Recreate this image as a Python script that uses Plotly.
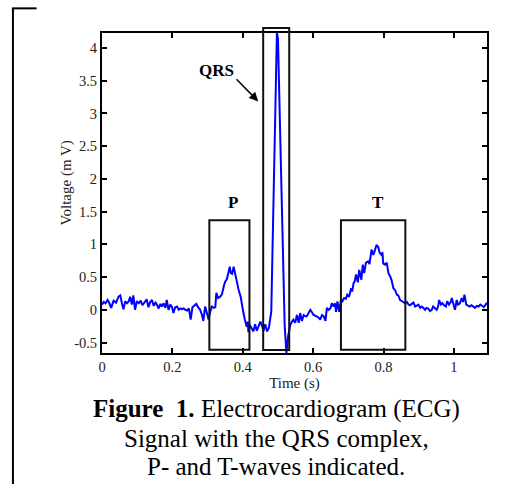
import plotly.graph_objects as go

# ---- data ----
time_s = [0.000, 0.005, 0.010, 0.016, 0.021, 0.026, 0.033, 0.040, 0.047, 0.052,
          0.057, 0.061, 0.066, 0.071, 0.076, 0.080, 0.085, 0.089, 0.094, 0.099,
          0.105, 0.110, 0.115, 0.120, 0.127, 0.132, 0.137, 0.142, 0.147, 0.152,
          0.156, 0.161, 0.166, 0.170, 0.175, 0.180, 0.184, 0.189, 0.194, 0.199,
          0.203, 0.208, 0.213, 0.218, 0.223, 0.228, 0.232, 0.237, 0.242, 0.247,
          0.252, 0.257, 0.262, 0.268, 0.273, 0.279, 0.284, 0.288, 0.293, 0.298,
          0.303, 0.307, 0.312, 0.318, 0.322, 0.325, 0.330, 0.336, 0.341, 0.347,
          0.350, 0.355, 0.360, 0.363, 0.366, 0.370, 0.374, 0.378, 0.383, 0.388,
          0.394, 0.398, 0.402, 0.406, 0.411, 0.414, 0.416, 0.420, 0.425, 0.430,
          0.435, 0.440, 0.445, 0.450, 0.455, 0.459, 0.464, 0.469, 0.474, 0.478,
          0.481, 0.497, 0.500, 0.519, 0.524, 0.529, 0.535, 0.540, 0.544, 0.549,
          0.554, 0.559, 0.563, 0.568, 0.573, 0.578, 0.582, 0.587, 0.592, 0.597,
          0.601, 0.606, 0.611, 0.616, 0.620, 0.625, 0.630, 0.635, 0.639, 0.644,
          0.649, 0.653, 0.658, 0.662, 0.665, 0.669, 0.674, 0.679, 0.683, 0.688,
          0.693, 0.697, 0.702, 0.708, 0.711, 0.715, 0.718, 0.722, 0.727, 0.731,
          0.737, 0.741, 0.745, 0.750, 0.756, 0.760, 0.766, 0.771, 0.775, 0.780,
          0.785, 0.789, 0.794, 0.797, 0.799, 0.804, 0.809, 0.814, 0.819, 0.823,
          0.828, 0.833, 0.838, 0.842, 0.847, 0.852, 0.856, 0.861, 0.866, 0.871,
          0.875, 0.880, 0.885, 0.890, 0.894, 0.899, 0.904, 0.908, 0.913, 0.918,
          0.922, 0.927, 0.932, 0.937, 0.941, 0.946, 0.951, 0.955, 0.958, 0.963,
          0.967, 0.972, 0.977, 0.981, 0.986, 0.991, 0.994, 0.998, 1.003, 1.008,
          1.012, 1.017, 1.022, 1.026, 1.030, 1.035, 1.040, 1.045, 1.050, 1.055,
          1.060, 1.065, 1.070, 1.075, 1.080, 1.085, 1.093, 1.100]

voltage_mv = [0.08, 0.12, 0.10, 0.15, 0.10, 0.03, 0.14, 0.11, 0.20, 0.22,
              0.09, 0.01, 0.13, 0.10, 0.13, 0.20, 0.08, 0.22, 0.00, 0.13,
              0.10, 0.14, 0.07, 0.11, 0.16, 0.04, 0.12, 0.15, 0.06, 0.11,
              0.08, 0.02, 0.09, 0.05, 0.10, 0.03, 0.15, 0.00, 0.08, 0.04,
              -0.05, 0.04, 0.05, 0.00, 0.02, 0.01, 0.02, 0.00, -0.01, 0.02,
              -0.15, 0.04, 0.06, 0.09, 0.04, 0.00, -0.08, -0.17, 0.05, -0.05,
              -0.15, -0.04, 0.05, 0.03, 0.04, 0.26, 0.18, 0.20, 0.24, 0.38,
              0.43, 0.47, 0.61, 0.66, 0.56, 0.55, 0.66, 0.55, 0.43, 0.31,
              0.20, 0.05, -0.05, -0.15, -0.26, -0.18, -0.34, -0.23, -0.28, -0.33,
              -0.22, -0.32, -0.25, -0.18, -0.25, -0.32, -0.22, -0.33, -0.28, -0.12,
              -0.03, 4.23, 4.15, -0.23, -0.66, -0.40, -0.23, -0.18, -0.15, -0.20,
              -0.08, -0.20, -0.05, -0.17, -0.08, -0.10, -0.10, -0.05, 0.00, -0.04,
              -0.08, -0.09, -0.10, -0.12, -0.15, -0.08, -0.10, -0.17, 0.03, 0.00,
              0.02, 0.10, 0.05, 0.10, -0.03, 0.13, -0.03, 0.15, 0.13, 0.18,
              0.17, 0.23, 0.20, 0.33, 0.28, 0.41, 0.43, 0.54, 0.42, 0.61,
              0.46, 0.69, 0.56, 0.72, 0.74, 0.70, 0.92, 0.84, 0.90, 0.99,
              0.96, 0.87, 0.84, 0.88, 0.71, 0.69, 0.72, 0.56, 0.51, 0.45,
              0.33, 0.30, 0.23, 0.22, 0.15, 0.14, 0.12, 0.10, 0.12, 0.08,
              0.07, 0.09, 0.11, 0.05, 0.06, 0.08, 0.03, 0.05, 0.03, 0.00,
              0.03, 0.02, -0.02, 0.00, 0.05, 0.02, 0.00, 0.05, 0.15, 0.08,
              0.10, 0.07, 0.05, 0.13, 0.08, 0.12, 0.18, 0.10, 0.00, 0.15,
              0.08, 0.10, 0.18, 0.12, 0.23, 0.08, 0.06, 0.05, 0.07, 0.05,
              0.03, 0.06, 0.05, 0.08, 0.06, 0.04, 0.10, 0.12]

x_tick_vals = [0, 0.2, 0.4, 0.6, 0.8, 1.0]
x_tick_text = ["0", "0.2", "0.4", "0.6", "0.8", "1"]
y_tick_vals = [-0.5, 0, 0.5, 1, 1.5, 2, 2.5, 3, 3.5, 4]
y_tick_text = ["-0.5", "0", "0.5", "1", "1.5", "2", "2.5", "3", "3.5", "4"]

# wave boxes (time start, time end, voltage bottom, voltage top) and labels
p_box = [0.305, 0.419, -0.61, 1.37]
t_box = [0.679, 0.862, -0.61, 1.37]
qrs_box_t = [0.458, 0.532]
wave_labels = ["P", "T", "QRS"]
wave_label_t = [0.371, 0.783, 0.325]
wave_label_v = [1.64, 1.64, 3.65]
qrs_arrow_head = [0.444, 3.185]
qrs_arrow_tail = [0.378, 3.547]

x_title = "Time (s)"
y_title = "Voltage (m V)"
caption_lines = ["<b>Figure\u00a0 1.</b> Electrocardiogram (ECG)",
                 "Signal with the QRS complex,",
                 "P- and T-waves indicated."]

SERIF = "Liberation Serif, Times New Roman, serif"

fig = go.Figure()
fig.add_trace(go.Scatter(x=time_s, y=voltage_mv, mode="lines",
                         line=dict(color="#0000ff", width=2),
                         showlegend=False, hoverinfo="skip"))

box_line = dict(color="#111111", width=2)
for b in (p_box, t_box):
    fig.add_shape(type="rect", xref="x", yref="y", x0=b[0], x1=b[1],
                  y0=b[2], y1=b[3], line=box_line, layer="above")
fig.add_shape(type="rect", xref="x", yref="paper", x0=qrs_box_t[0], x1=qrs_box_t[1],
              y0=0.0094, y1=1.0156, line=box_line, layer="above")

# frame lines at the left of the figure
frame = dict(color="#000000", width=2)
fig.add_shape(type="line", xref="paper", yref="paper", x0=-0.2313, x1=-0.2313,
              y0=1.077, y1=-0.45, line=frame)
fig.add_shape(type="line", xref="paper", yref="paper", x0=-0.2339, x1=-0.170,
              y0=1.077, y1=1.077, line=frame)

for lab, tx, vy in zip(wave_labels, wave_label_t, wave_label_v):
    fig.add_annotation(x=tx, y=vy, xref="x", yref="y", text="<b>%s</b>" % lab,
                       showarrow=False, font=dict(family=SERIF, size=17, color="#000"),
                       xanchor="center", yanchor="middle")

fig.add_annotation(x=qrs_arrow_head[0], y=qrs_arrow_head[1], xref="x", yref="y",
                   ax=qrs_arrow_tail[0], ay=qrs_arrow_tail[1], axref="x", ayref="y",
                   text="", showarrow=True, arrowhead=2, arrowsize=1.2,
                   arrowwidth=1.5, arrowcolor="#000")

# y-axis title placed like the reference (slightly above the axis centre)
fig.add_annotation(x=-0.0936, y=0.533, xref="paper", yref="paper", text=y_title,
                   textangle=-90, showarrow=False, xanchor="center", yanchor="middle",
                   font=dict(family=SERIF, size=15, color="#222"))

caption_y = [-0.175, -0.266, -0.356]
for line, cy in zip(caption_lines, caption_y):
    fig.add_annotation(x=0.452, y=cy, xref="paper", yref="paper", text=line,
                       showarrow=False, xanchor="center", yanchor="middle",
                       font=dict(family=SERIF, size=25, color="#000"))

axis_common = dict(showline=True, linecolor="#000", linewidth=2, mirror="allticks",
                   ticks="inside", ticklen=5, tickwidth=2, tickcolor="#000",
                   showgrid=False, zeroline=False,
                   tickfont=dict(family=SERIF, size=14.5, color="#222"))

fig.update_xaxes(range=[0, 1.094], tickvals=x_tick_vals, ticktext=x_tick_text,
                 title=dict(text=x_title, font=dict(family=SERIF, size=15, color="#222"),
                            standoff=1),
                 **axis_common)
fig.update_yaxes(range=[-0.66, 4.23], tickvals=y_tick_vals, ticktext=y_tick_text,
                 **axis_common)

fig.update_layout(width=527, height=484, margin=dict(l=102, r=40, t=33, b=131),
                  plot_bgcolor="white", paper_bgcolor="white")

fig.write_html("out.html", config={"displayModeBar": False},
               post_script="document.body.style.margin='0px';"
                           "document.body.style.overflow='hidden';")
